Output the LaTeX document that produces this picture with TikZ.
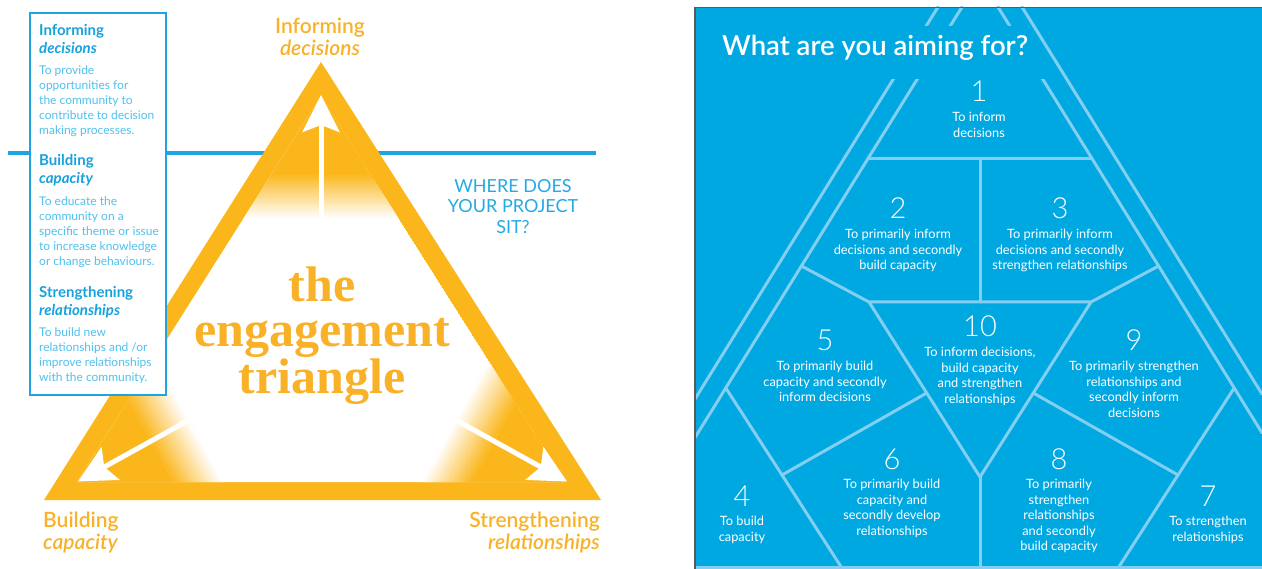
\documentclass[tikz,border=0pt]{standalone}
\usepackage{fontspec}
\setmainfont{Lato}
\newfontfamily\engfont{Liberation Serif}
\IfFontExistsTF{Lato Light}{\newfontfamily\thinfont{Lato Light}}{\newfontfamily\thinfont{Lato}}
\IfFontExistsTF{Lato Semibold}{%
  \newfontfamily\midfont{Lato Semibold}
  \IfFontExistsTF{Lato Semibold Italic}{\newfontfamily\miditfont{Lato Semibold Italic}}{\newfontfamily\miditfont{Lato}[UprightFont=*-BoldItalic]}%
}{\newfontfamily\midfont{Lato}[UprightFont=* Bold]\newfontfamily\miditfont{Lato}[UprightFont=* Bold Italic]}
\usetikzlibrary{arrows.meta}

\definecolor{tri}{RGB}{251,182,27}
\definecolor{tritext}{RGB}{249,178,40}
\definecolor{hblue}{RGB}{30,164,224}
\definecolor{headblue}{RGB}{22,162,222}
\definecolor{bodyblue}{RGB}{80,193,238}
\definecolor{askblue}{RGB}{36,170,228}
\definecolor{panel}{RGB}{0,168,226}
\definecolor{pline}{RGB}{132,206,242}
\definecolor{frame}{RGB}{90,90,90}

% one block of the legend box: name, heading baseline, heading, italic word, body baseline, body lines
\newcommand\boxblock[6]{%
  \node[bhead] (#1h) at (39,#2) {#3};
  \node[bhead,font=\bfseries\itshape\fontsize{15}{18}\selectfont] (#1i) at (39,#2+18) {#4};
  \foreach \t [count=\i from 0] in {#6} \node[bbody] (#1\i) at (39,{#5+15*\i}) {\t};
}
% one numbered zone of the aiming diagram: name, x, number baseline, number, text lines
\newcommand\zone[5]{%
  \node[znum] (#1n) at (#2,#3) {#4};
  \foreach \t [count=\i from 0] in {#5} \node[ztxt] (#1\i) at (#2,{#3+19.5+15.6*\i}) {\t};
}

\begin{document}
\begin{tikzpicture}[x=1pt,y=-1pt,
  hline/.style={draw=hblue,line width=4pt},
  warrow/.style={draw=white,line width=5pt,-{Stealth[length=37pt,width=37pt,inset=7pt]}},
  boxframe/.style={draw=hblue,line width=2pt,fill=white},
  bhead/.style={anchor=base west,inner sep=0,text=headblue,font=\bfseries\fontsize{15}{18}\selectfont},
  bbody/.style={anchor=base west,inner sep=0,text=bodyblue,font=\fontsize{12}{15}\selectfont},
  olabel/.style={inner sep=0,text=tritext,font=\midfont\fontsize{21}{24}\selectfont},
  oitalic/.style={olabel,font=\miditfont\fontsize{21}{24}\selectfont},
  eng/.style={anchor=base,inner sep=0,text=tritext,font=\engfont\bfseries\fontsize{50}{50}\selectfont},
  ask/.style={anchor=base,inner sep=0,text=askblue,font=\fontsize{18}{20}\selectfont},
  pl/.style={draw=pline,line width=3pt,line cap=round,line join=round},
  znum/.style={anchor=base,inner sep=0,text=white,font=\thinfont\fontsize{29}{30}\selectfont},
  ztxt/.style={anchor=base,inner sep=0,text=white,font=\fontsize{12.8}{15}\selectfont}]

\useasboundingbox (0,0) rectangle (1262,569);
\fill[white] (0,0) rectangle (1262,569);

% ---------------- the engagement triangle ----------------
\coordinate (hl) at (8,153);
\coordinate (hr) at (596,153);
\draw[hline] (hl) -- (hr);

\coordinate (A) at (321,62);
\coordinate (B) at (44,500);
\coordinate (C) at (601,500);
\coordinate (Ai) at (321,96);
\coordinate (Bi) at (76.7,482);
\coordinate (Ci) at (565.3,482);
\fill[tri] (A) -- (B) -- (C) -- cycle;

\begin{scope}
  \clip (Ai) -- (Bi) -- (Ci) -- cycle;
  \fill[white] (Ai) -- (Bi) -- (Ci) -- cycle;
  % glow in the top corner
  \fill[tri] (0,0) rectangle (640,174);
  \foreach \k in {0,...,29}{
    \pgfmathtruncatemacro\pct{100-100*(\k+0.5)/30}
    \fill[tri!\pct!white] (0,{174+1.5*\k}) rectangle (640,{175.7+1.5*\k});
  }
  % glow in the bottom corners, along their bisectors
  \foreach \corner/\ang in {B/28.85,C/151.15}{
    \begin{scope}[shift={(\corner)},rotate=\ang]
      \fill[tri] (-20,-300) rectangle (122,300);
      \foreach \k in {0,...,29}{
        \pgfmathtruncatemacro\pct{100-100*(\k+0.5)/30}
        \fill[tri!\pct!white] ({122+1.45*\k},-300) rectangle ({123.7+1.45*\k},300);
      }
    \end{scope}
  }
\end{scope}

% arrows towards the three corners
\coordinate (up0) at (321,250);
\coordinate (up1) at (321,95);
\coordinate (bl0) at (192.9,417.9);
\coordinate (bl1) at (78,481.5);
\coordinate (br0) at (452.1,417.9);
\coordinate (br1) at (567,481.5);
\draw[warrow] (up0) -- (up1);
\draw[warrow] (bl0) -- (bl1);
\draw[warrow] (br0) -- (br1);

% corner labels
\node[olabel,anchor=base] (topa) at (320,34) {Informing};
\node[oitalic,anchor=base] (topb) at (320,56) {decisions};
\node[olabel,anchor=base west] (lefta) at (43,527) {Building};
\node[oitalic,anchor=base west] (leftb) at (43,549) {capacity};
\node[olabel,anchor=base east] (righta) at (600,527) {Strengthening};
\node[oitalic,anchor=base east] (rightb) at (600,549) {relationships};

% title in the middle
\node[eng] (eng1) at (322,302) {the};
\node[eng] (eng2) at (322,347) {engagement};
\node[eng] (eng3) at (322,394) {triangle};

% question
\node[ask] (ask1) at (513,192.5) {WHERE DOES};
\node[ask] (ask2) at (513,213) {YOUR PROJECT};
\node[ask] (ask3) at (513,233.5) {SIT?};

% legend box
\draw[boxframe] (30,13) rectangle (166,395);
\boxblock{ib}{36}{Informing}{decisions}{75}{To provide,opportunities for,the community to,contribute to decision,making processes.}
\boxblock{bc}{166}{Building}{capacity}{206}{To educate the,community on a,specific theme or issue,to increase knowledge,or change behaviours.}
\boxblock{sr}{298}{Strengthening}{relationships}{337}{To build new,relationships and /or,improve relationships,with the community.}

% ---------------- what are you aiming for ----------------
\fill[panel] (695,7) rectangle (1262,569);

% band lines and zone boundaries
\coordinate (lo0) at (938,7);   \coordinate (lo1) at (695,399);
\coordinate (li0) at (962,7);   \coordinate (li1) at (695,437.6);
\coordinate (ro0) at (1022,7);  \coordinate (ro1) at (1262,394);
\coordinate (ri0) at (998,7);   \coordinate (ri1) at (1262,432.8);
\coordinate (t1l) at (868,159); \coordinate (t1r) at (1092,159);
\coordinate (m1) at (980,159);  \coordinate (m2) at (980,302);
\coordinate (x0l) at (869,302); \coordinate (x0r) at (1091,302);
\coordinate (x0b) at (980,477); \coordinate (bot) at (980,569);
\coordinate (e2l) at (801.4,266); \coordinate (e2r) at (1158.6,266);
\coordinate (e5l) at (926.7,393); \coordinate (e5r) at (1033.3,393);
\coordinate (k4a) at (725.8,388); \coordinate (k4b) at (782,475); \coordinate (k4c) at (842.5,569);
\coordinate (k7a) at (1234.2,388); \coordinate (k7b) at (1178,475); \coordinate (k7c) at (1117.5,569);
\coordinate (pbl) at (695,567.5); \coordinate (pbr) at (1262,567.5);

\begin{scope}
  \clip (695,7) rectangle (1262,569);
  \draw[pl] (lo0) -- (lo1);
  \draw[pl] (li0) -- (li1);
  \draw[pl] (ro0) -- (ro1);
  \draw[pl] (ri0) -- (ri1);
  \draw[pl] (t1l) -- (t1r);
  \draw[pl] (m1) -- (m2);
  \draw[pl] (x0l) -- (x0r) -- (x0b) -- cycle;
  \draw[pl] (x0b) -- (bot);
  \draw[pl] (e2l) -- (x0l);
  \draw[pl] (e2r) -- (x0r);
  \draw[pl] (e5l) -- (k4b);
  \draw[pl] (e5r) -- (k7b);
  \draw[pl] (k4a) -- (k4b) -- (k4c);
  \draw[pl] (k7a) -- (k7b) -- (k7c);
  \draw[pl] (pbl) -- (pbr);
\end{scope}

% title over a plain patch
\fill[panel] (716,26) -- (1031,26) -- (1052,79) -- (716,79) -- cycle;
\node[anchor=base west,inner sep=0,text=white,font=\midfont\fontsize{27.5}{30}\selectfont] (aim) at (722,56) {What are you aiming for?};

% panel edge
\draw[frame,line width=1.2pt] (695,569) -- (695,7.3) -- (1262,7.3);

% zones
\zone{za}{979}{102}{1}{To inform,decisions}
\zone{zb}{898}{219}{2}{To primarily inform,decisions and secondly,build capacity}
\zone{zc}{1060}{219}{3}{To primarily inform,decisions and secondly,strengthen relationships}
\zone{ze}{825}{351}{5}{To primarily build,capacity and secondly,inform decisions}
\zone{zj}{980}{337}{10}{{To inform decisions,},build capacity,and strengthen,relationships}
\zone{zi}{1134}{351}{9}{To primarily strengthen,relationships and,secondly inform,decisions}
\zone{zf}{892}{469}{6}{To primarily build,capacity and,secondly develop,relationships}
\zone{zh}{1059}{469}{8}{To primarily,strengthen,relationships,and secondly,build capacity}
\zone{zd}{742}{506}{4}{To build,capacity}
\zone{zg}{1208}{506}{7}{To strengthen,relationships}

\end{tikzpicture}
\end{document}
